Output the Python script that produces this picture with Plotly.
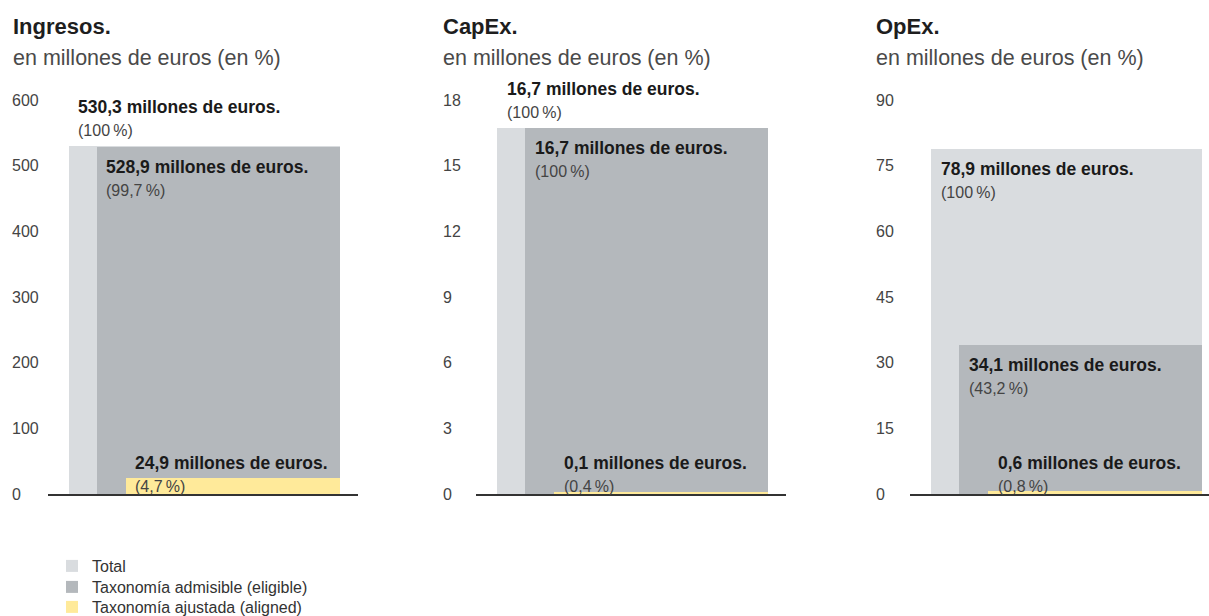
import plotly.graph_objects as go

W, H = 1209, 616

# ---------------- data ----------------
panel_titles = ["Ingresos.", "CapEx.", "OpEx."]
subtitle = "en millones de euros (en %)"
series_names = ["Total", "Taxonomía admisible (eligible)", "Taxonomía ajustada (aligned)"]

ingresos_values = [530.3, 528.9, 24.9]
capex_values = [16.7, 16.7, 0.1]
opex_values = [78.9, 34.1, 0.6]

ingresos_pct = ["100", "99,7", "4,7"]
capex_pct = ["100", "100", "0,4"]
opex_pct = ["100", "43,2", "0,8"]

ingresos_ticks = [0, 100, 200, 300, 400, 500, 600]
capex_ticks = [0, 3, 6, 9, 12, 15, 18]
opex_ticks = [0, 15, 30, 45, 60, 75, 90]

values = [ingresos_values, capex_values, opex_values]
pcts = [ingresos_pct, capex_pct, opex_pct]
ticks = [ingresos_ticks, capex_ticks, opex_ticks]

# ---------------- style / layout ----------------
colors = ["#d9dcdf", "#b4b8bc", "#ffea9a"]
FONT = "Liberation Sans, Arial, Helvetica, sans-serif"
unit = " millones de euros."

line_start_px = [47.5, 476, 910]
panel_w_px = 310.0
bar_left_px = [20.5, 48.5, 77.5]
bar_right_px = 291.5
tick_left_px = [8, 439, 872]
title_left_px = [11, 441, 874]
legend_rows_px = [566, 587, 607]

y_bottom_px, y_top_px = 494, 100
ydom = [1 - y_bottom_px / H, 1 - y_top_px / H]

# label placement per panel / series
placement = [
    ["above", "inside", "base"],
    ["above", "inside", "base"],
    ["inside", "inside", "base"],
]

fig = go.Figure()
annotations = []
legend_names = ["legend", "legend2", "legend3"]

for p in range(3):
    ax = "" if p == 0 else str(p + 1)
    xa, ya = "x" + ax, "y" + ax
    start = line_start_px[p]
    end = min(start + panel_w_px, W)
    xr = (end - start) / panel_w_px
    for s in range(3):
        left = bar_left_px[s] / panel_w_px
        right = bar_right_px / panel_w_px
        fig.add_trace(go.Bar(
            x=[(left + right) / 2], y=[values[p][s]], width=[right - left], base=0,
            marker=dict(color=colors[s], line=dict(width=0)),
            name=series_names[s], legend=legend_names[s], showlegend=(p == 0),
            xaxis=xa, yaxis=ya, hoverinfo="skip",
        ))
        val_txt = f"{values[p][s]:.1f}".replace(".", ",")
        text = (f"<b>{val_txt}{unit}</b><br>"
                f"<span style='font-size:16px;color:#444444'>({pcts[p][s]}\u2009%)</span>")
        mode = placement[p][s]
        if mode == "above":
            yv, yanc, ysh = values[p][s], "bottom", 5
        elif mode == "inside":
            yv, yanc, ysh = values[p][s], "top", -8
        else:
            yv, yanc, ysh = 0, "bottom", -3
        annotations.append(dict(
            x=left, y=yv, xref=xa, yref=ya, xanchor="left", yanchor=yanc,
            xshift=8, yshift=ysh, showarrow=False, align="left", text=text,
            font=dict(family=FONT, size=17.5, color="#1a1a1a"),
        ))

    dom = [start / W, end / W]
    fig.layout["xaxis" + ax] = dict(
        domain=dom, range=[0, xr], anchor=ya, showline=True, linecolor="#333333",
        linewidth=1.5, showgrid=False, zeroline=False, showticklabels=False,
        ticks="", fixedrange=True,
    )
    fig.layout["yaxis" + ax] = dict(
        domain=ydom, range=[0, ticks[p][-1]], anchor="free", position=tick_left_px[p] / W,
        tickvals=ticks[p], ticktext=[str(t) for t in ticks[p]],
        ticklabelposition="inside", ticklabeloverflow="allow", ticks="",
        showgrid=False, zeroline=False, showline=False,
        tickfont=dict(family=FONT, size=16, color="#444444"), fixedrange=True,
    )

    annotations.append(dict(
        x=title_left_px[p] / W, y=1 - 27 / H, xref="paper", yref="paper",
        xanchor="left", yanchor="middle", showarrow=False,
        text=f"<b>{panel_titles[p]}</b>", font=dict(family=FONT, size=22, color="#1e1e1e"),
    ))
    annotations.append(dict(
        x=title_left_px[p] / W, y=1 - 58 / H, xref="paper", yref="paper",
        xanchor="left", yanchor="middle", showarrow=False,
        text=subtitle, font=dict(family=FONT, size=21.5, color="#4a4a4a"),
    ))

legend_common = dict(
    xanchor="left", yanchor="middle", orientation="v",
    font=dict(family=FONT, size=16, color="#333333"),
    bgcolor="rgba(0,0,0,0)", borderwidth=0,
)
fig.update_layout(
    width=W, height=H, margin=dict(l=0, r=0, t=0, b=0, autoexpand=False),
    paper_bgcolor="white", plot_bgcolor="white",
    barmode="overlay", bargap=0,
    annotations=annotations,
    showlegend=True,
    hovermode=False,
)
for i, ln in enumerate(legend_names):
    fig.layout[ln] = dict(x=52 / W, y=1 - legend_rows_px[i] / H, **legend_common)

fig.write_html("out.html")
